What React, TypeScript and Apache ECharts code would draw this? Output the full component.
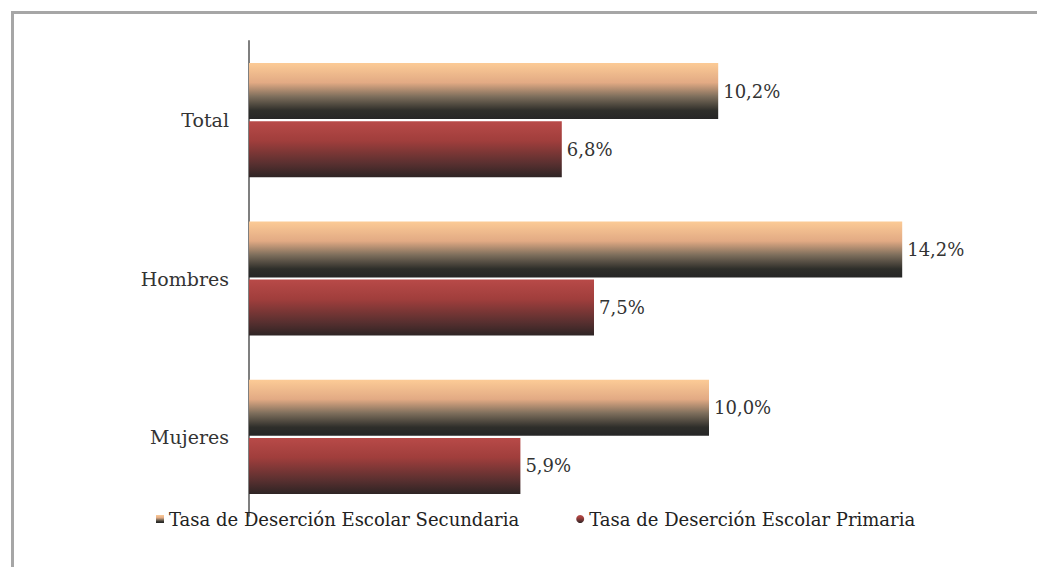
import React, { useEffect, useRef } from "react";
import * as echarts from "echarts";

const categories = ["Total", "Hombres", "Mujeres"];
const seriesNames = [
  "Tasa de Deserción Escolar Secundaria",
  "Tasa de Deserción Escolar Primaria",
];
const secundaria = [10.2, 14.2, 10.0];
const primaria = [6.8, 7.5, 5.9];

const FONT = "DejaVu Serif";

const fmt = (v: number) => v.toFixed(1).replace(".", ",") + "%";

export default function App() {
  const ref = useRef<HTMLDivElement>(null);
  useEffect(() => {
    if (!ref.current) return;
    const chart = echarts.init(ref.current, null, { renderer: "svg" });
    const secColor = new echarts.graphic.LinearGradient(0, 0, 0, 1, [
      { offset: 0, color: "#fccb96" },
      { offset: 0.35, color: "#e2aa84" },
      { offset: 0.6, color: "#7d6e5c" },
      { offset: 0.85, color: "#2e2e2a" },
      { offset: 1, color: "#262626" },
    ]);
    const primColor = new echarts.graphic.LinearGradient(0, 0, 0, 1, [
      { offset: 0, color: "#b84a48" },
      { offset: 0.35, color: "#a03e3c" },
      { offset: 0.75, color: "#5a3030" },
      { offset: 1, color: "#2e2424" },
    ]);
    const label = {
      show: true,
      position: "right" as const,
      distance: 5,
      fontFamily: FONT,
      fontSize: 18,
      color: "#333",
      formatter: (p: any) => fmt(p.value),
    };
    chart.setOption({
      animation: false,
      backgroundColor: "#fff",
      graphic: [
        {
          type: "rect",
          shape: { x: 12.5, y: 12.5, width: 1200, height: 700 },
          style: { fill: "none", stroke: "#a6a6a6", lineWidth: 3 },
          silent: true,
        },
      ],
      grid: { left: 249, top: 41, width: 736, height: 475, containLabel: false },
      xAxis: {
        type: "value",
        min: 0,
        max: 16,
        show: false,
        splitLine: { show: false },
      },
      yAxis: {
        type: "category",
        data: categories,
        inverse: true,
        axisLine: { show: true, lineStyle: { color: "#7f7f7f", width: 2 } },
        axisTick: { show: false },
        axisLabel: {
          margin: 20,
          fontFamily: FONT,
          fontSize: 19,
          color: "#333",
        },
      },
      legend: {
        top: 505,
        left: 151,
        itemWidth: 8,
        itemHeight: 8,
        itemGap: 57,
        textStyle: { fontFamily: FONT, fontSize: 18, color: "#222" },
        data: [
          { name: seriesNames[0], icon: "rect" },
          { name: seriesNames[1], icon: "circle" },
        ],
      },
      series: [
        {
          name: seriesNames[0],
          type: "bar",
          data: secundaria,
          barWidth: 56,
          barGap: "4%",
          itemStyle: { color: secColor },
          label,
        },
        {
          name: seriesNames[1],
          type: "bar",
          data: primaria,
          barWidth: 56,
          itemStyle: { color: primColor },
          label,
        },
      ],
    });
    return () => chart.dispose();
  }, []);
  return (
    <div
      ref={ref}
      style={{ position: "fixed", left: 0, top: 0, width: 1037, height: 567 }}
    />
  );
}
